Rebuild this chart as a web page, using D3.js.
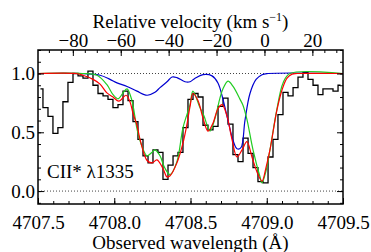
<!DOCTYPE html>
<html><head><meta charset="utf-8">
<script src="https://cdn.jsdelivr.net/npm/d3@7"></script>
<style>
body{margin:0;background:#fff}
</style>
</head><body><svg id="c" width="371" height="252"></svg>
<script>
// ---- data ----
const wave = [4707.516,4707.549,4707.582,4707.614,4707.647,4707.680,4707.713,4707.746,4707.779,4707.811,
4707.844,4707.877,4707.910,4707.943,4707.975,4708.008,4708.041,4708.074,4708.107,4708.139,
4708.172,4708.205,4708.238,4708.270,4708.303,4708.336,4708.369,4708.402,4708.434,4708.467,
4708.500,4708.533,4708.566,4708.598,4708.631,4708.664,4708.697,4708.730,4708.762,4708.795,
4708.828,4708.861,4708.894,4708.926,4708.959,4708.992,4709.025,4709.057,4709.090,4709.123,
4709.156,4709.189,4709.221,4709.254,4709.287,4709.320,4709.352,4709.385,4709.418,4709.451,4709.484];
const flux = [0.87,0.71,0.635,0.49,0.54,0.76,0.925,1.0,0.98,0.96,
1.02,0.90,0.83,0.81,0.78,0.71,0.735,0.85,0.77,0.59,
0.44,0.30,0.24,0.35,0.33,0.10,0.22,0.30,0.33,0.54,
0.78,0.83,0.80,0.56,0.52,0.55,0.72,0.79,0.57,0.31,
0.25,0.45,0.32,0.20,0.08,0.07,0.29,0.44,0.65,0.84,
0.81,0.88,0.97,1.01,0.95,0.90,0.82,0.87,0.87,0.85,0.90];

const redWave = [4707.5,4707.75,4707.795,4707.861,4707.907,4707.952,4707.992,4708.030,4708.077,4708.103,4708.123,4708.149,4708.169,4708.215,4708.248,4708.280,4708.320,4708.346,4708.366,4708.411,4708.451,4708.477,4708.497,4708.516,4708.549,4708.582,4708.615,4708.648,4708.680,4708.707,4708.739,4708.772,4708.805,4708.838,4708.870,4708.903,4708.943,4708.969,4708.995,4709.021,4709.067,4709.100,4709.133,4709.166,4709.2,4709.5];
const redFlux = [1.0,1.0,0.985,0.95,0.91,0.835,0.80,0.765,0.815,0.76,0.66,0.56,0.44,0.26,0.24,0.265,0.19,0.12,0.13,0.24,0.41,0.57,0.72,0.83,0.77,0.62,0.51,0.58,0.70,0.735,0.64,0.44,0.29,0.35,0.42,0.29,0.14,0.085,0.20,0.35,0.69,0.86,0.96,0.995,1.0,1.0];

const greenWave = [4707.5,4707.79,4707.887,4707.952,4707.992,4708.025,4708.060,4708.084,4708.116,4708.149,4708.182,4708.215,4708.248,4708.267,4708.300,4708.330,4708.366,4708.411,4708.451,4708.497,4708.516,4708.562,4708.588,4708.628,4708.661,4708.693,4708.713,4708.746,4708.779,4708.825,4708.844,4708.870,4708.910,4708.956,4708.969,4708.995,4709.021,4709.067,4709.107,4709.152,4709.5];
const greenFlux = [1.0,1.0,0.985,0.905,0.82,0.785,0.84,0.87,0.77,0.53,0.38,0.30,0.33,0.35,0.30,0.20,0.14,0.25,0.54,0.735,0.85,0.71,0.64,0.51,0.62,0.79,0.87,0.935,0.89,0.78,0.73,0.61,0.35,0.12,0.07,0.17,0.35,0.70,0.92,1.0,1.0];

const blueWave = [4707.5,4707.775,4707.907,4707.972,4708.018,4708.084,4708.149,4708.215,4708.267,4708.300,4708.346,4708.379,4708.411,4708.464,4708.497,4708.530,4708.582,4708.641,4708.680,4708.713,4708.746,4708.779,4708.805,4708.831,4708.857,4708.890,4708.930,4708.969,4709.008,4709.5];
const blueFlux = [1.0,1.0,0.985,0.95,0.92,0.89,0.85,0.815,0.84,0.88,0.93,0.97,0.965,0.93,0.93,0.96,0.99,0.98,0.92,0.78,0.60,0.43,0.36,0.37,0.60,0.83,0.95,0.99,1.0,1.0];

const xTickValues = [4707.5,4708.0,4708.5,4709.0,4709.5];
const yTickValues = [0.0,0.5,1.0];
const vTickValues = [-80,-60,-40,-20,0,20];
const lineLabel = "CII* \u03bb1335";
const lambda0 = 4708.985;
const cLight = 299792.458;

// ---- layout ----
const FONT = "Liberation Serif, serif";
const L = 38, R = 343, T = 50, B = 204;
const svg = d3.select("#c");
const x = d3.scaleLinear().domain([4707.5,4709.5]).range([L,R]);
const y = d3.scaleLinear().domain([-0.11,1.2]).range([B,T]);
const vel = w => cLight*(w/lambda0 - 1);
const v = d3.scaleLinear().domain([vel(4707.5), vel(4709.5)]).range([L,R]);

svg.append("defs").append("clipPath").attr("id","clip")
  .append("rect").attr("x",L).attr("y",T).attr("width",R-L).attr("height",B-T);

const plot = svg.append("g").attr("clip-path","url(#clip)");

[0,1].forEach(val => {
  plot.append("line").attr("x1",L).attr("x2",R).attr("y1",y(val)).attr("y2",y(val))
    .attr("stroke","#444").attr("stroke-width",1).attr("stroke-dasharray","1,2");
});

const hist = d3.line().x((d,i)=>x(wave[i])).y(d=>y(d)).curve(d3.curveStep);
plot.append("path").datum(flux).attr("d",hist).attr("fill","none")
  .attr("stroke","#000").attr("stroke-width",1.3);

function drawCurve(ws, fs, color){
  const ln = d3.line().x((d,i)=>x(ws[i])).y(d=>y(d)).curve(d3.curveCatmullRom.alpha(0.5));
  plot.append("path").datum(fs).attr("d",ln).attr("fill","none")
    .attr("stroke",color).attr("stroke-width",1.2);
}
drawCurve(blueWave, blueFlux, "#0000d0");
drawCurve(greenWave, greenFlux, "#22cc22");
drawCurve(redWave, redFlux, "#ff0000");

function styleAxis(g){
  g.attr("font-family", FONT).attr("font-size", 19);
  g.select(".domain").remove();
  g.selectAll(".tick line").attr("stroke","#000").attr("stroke-width",1);
  g.selectAll("text").attr("font-family", FONT).attr("font-size", 19);
}
svg.append("g").attr("transform",`translate(0,${B})`)
  .call(d3.axisBottom(x).tickValues(x.ticks(20)).tickSize(-3).tickFormat("")).call(styleAxis);
svg.append("g").attr("transform",`translate(0,${B})`)
  .call(d3.axisBottom(x).tickValues(xTickValues).tickSize(-6).tickPadding(12).tickFormat(d3.format(".1f"))).call(styleAxis);
svg.append("g").attr("transform",`translate(0,${T})`)
  .call(d3.axisTop(v).tickValues(v.ticks(25)).tickSize(-3).tickFormat("")).call(styleAxis);
svg.append("g").attr("transform",`translate(0,${T})`)
  .call(d3.axisTop(v).tickValues(vTickValues).tickSize(-6).tickPadding(3).tickFormat(d3.format("d"))).call(styleAxis);
svg.append("g").attr("transform",`translate(${L},0)`)
  .call(d3.axisLeft(y).tickValues(y.ticks(13)).tickSize(-3).tickFormat("")).call(styleAxis);
svg.append("g").attr("transform",`translate(${L},0)`)
  .call(d3.axisLeft(y).tickValues(yTickValues).tickSize(-6).tickPadding(3).tickFormat(d3.format(".1f"))).call(styleAxis);
svg.append("g").attr("transform",`translate(${R},0)`)
  .call(d3.axisRight(y).tickValues(y.ticks(13)).tickSize(-3).tickFormat("")).call(styleAxis);
svg.append("g").attr("transform",`translate(${R},0)`)
  .call(d3.axisRight(y).tickValues(yTickValues).tickSize(-6).tickFormat("")).call(styleAxis);

svg.append("rect").attr("x",L).attr("y",T).attr("width",R-L).attr("height",B-T)
  .attr("fill","none").attr("stroke","#000").attr("stroke-width",1.5);

svg.append("text").attr("x",(L+R)/2).attr("y",249).attr("text-anchor","middle")
  .attr("font-family",FONT).attr("font-size",19).text("Observed wavelength (\u00c5)");
const tt = svg.append("text").attr("x",(L+R)/2).attr("y",28).attr("text-anchor","middle")
  .attr("font-family",FONT).attr("font-size",19);
tt.append("tspan").text("Relative velocity (km s");
tt.append("tspan").attr("dy",-7).attr("font-size",12).text("\u22121");
tt.append("tspan").attr("dy",7).text(")");

svg.append("text").attr("x",47).attr("y",178).attr("font-family",FONT).attr("font-size",19).text(lineLabel);
</script></body></html>
